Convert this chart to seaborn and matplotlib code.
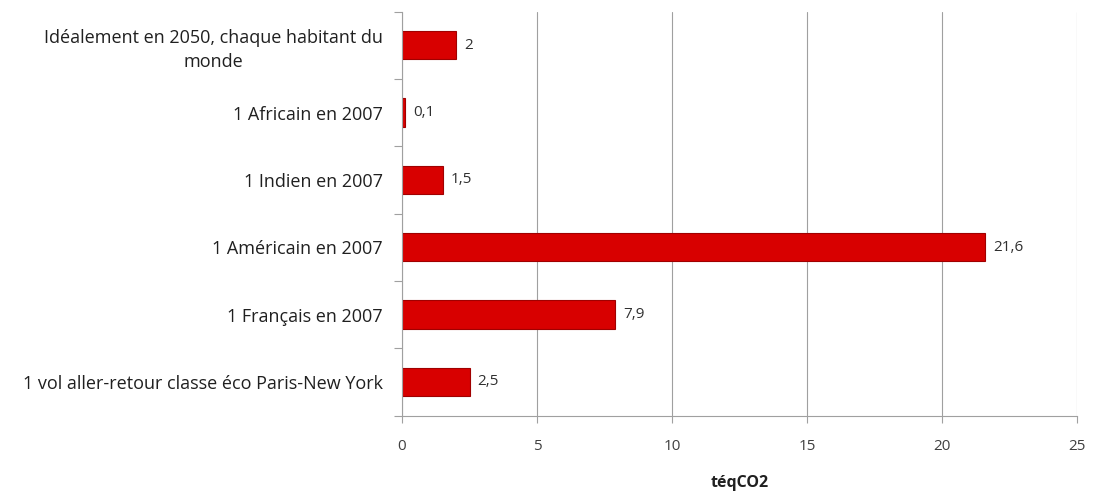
import matplotlib
matplotlib.use("Agg")
import matplotlib.pyplot as plt
import seaborn as sns
import pandas as pd

categories = [
    "Idéalement en 2050, chaque habitant du\nmonde",
    "1 Africain en 2007",
    "1 Indien en 2007",
    "1 Américain en 2007",
    "1 Français en 2007",
    "1 vol aller-retour classe éco Paris-New York",
]
values = [2, 0.1, 1.5, 21.6, 7.9, 2.5]
value_labels = ["2", "0,1", "1,5", "21,6", "7,9", "2,5"]
xticks = [0, 5, 10, 15, 20, 25]

sns.set_style("white")
plt.rcParams["font.family"] = ["Open Sans", "DejaVu Sans"]

df = pd.DataFrame({"cat": categories, "val": values})

fig = plt.figure(figsize=(11.05, 4.92), dpi=100)
ax = fig.add_axes([402 / 1105, 1 - 415.5 / 492, (1077 - 402) / 1105, (415.5 - 11.5) / 492])

sns.barplot(data=df, y="cat", x="val", orient="h", color="#d80000", width=0.42,
            ax=ax, saturation=1, edgecolor="#a00000", linewidth=0.8)

ax.set_xlim(0, 25)
ax.set_ylim(5.5, -0.5)
ax.set_xticks(xticks)
ax.set_xticklabels([str(t) for t in xticks], fontsize=11, color="#404040")
ax.grid(axis="x", color="#a0a0a0", linewidth=0.8)
ax.set_axisbelow(True)

ax.set_yticks(range(len(categories)))
ax.set_yticklabels(categories, fontsize=13, color="#202020", multialignment="center",
                   linespacing=1.4)
ax.tick_params(axis="y", which="major", left=False, length=0, pad=14)
ax.tick_params(axis="x", bottom=True, length=5, width=0.8, color="#a0a0a0", pad=12)

# boundary ticks on y axis
ax.set_yticks([i + 0.5 for i in range(-1, len(categories))], minor=True)
ax.tick_params(axis="y", which="minor", left=True, length=6, width=0.8,
               color="#a0a0a0", direction="out")

for s in ["top", "right"]:
    ax.spines[s].set_visible(False)
for s in ["left", "bottom"]:
    ax.spines[s].set_color("#a0a0a0")
    ax.spines[s].set_linewidth(0.8)

for i, (v, lab) in enumerate(zip(values, value_labels)):
    ax.text(v + 0.3, i, lab, va="center", ha="left", fontsize=11, color="#303030")

ax.set_ylabel("")
ax.set_xlabel("téqCO2", fontsize=11.5, fontweight="bold", color="#202020", labelpad=15)

fig.savefig("out.png", dpi=100)
